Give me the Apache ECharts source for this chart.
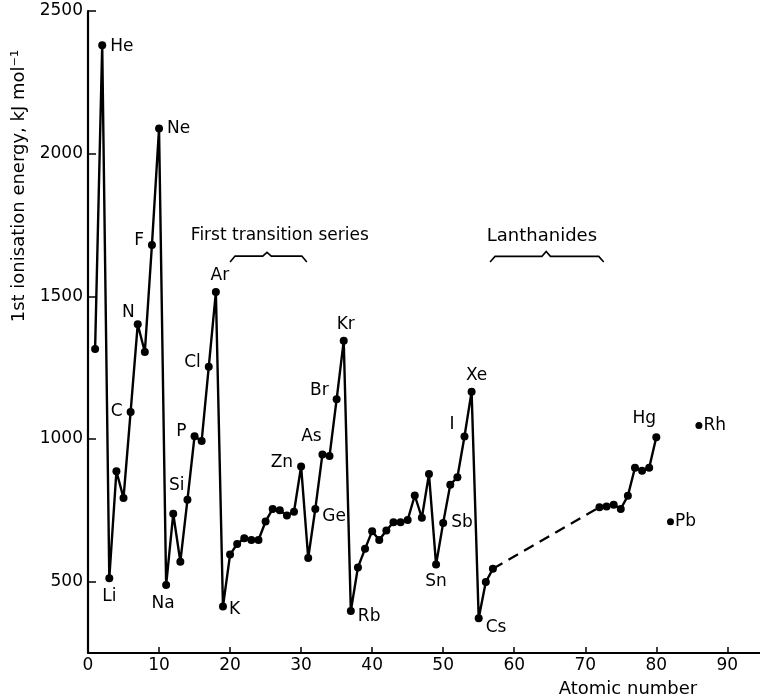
<!DOCTYPE html>
<html><head><meta charset="utf-8">
<script src="https://cdn.jsdelivr.net/npm/echarts@6/dist/echarts.min.js"></script>
<style>html,body{margin:0;padding:0;background:#fff}#c{width:760px;height:700px}</style>
</head><body><div id="c"></div>
<script>
// ---- data ----
const mainZ = [1,2,3,4,5,6,7,8,9,10,11,12,13,14,15,16,17,18,19,20,21,22,23,24,25,26,27,28,29,30,31,32,33,34,35,36,37,38,39,40,41,42,43,44,45,46,47,48,49,50,51,52,53,54,55,56,57];
const mainIE = [1315,2380,512,887,793,1095,1402,1305,1680,2088,488,738,570,787,1010,993,1253,1515,413,595,632,652,646,646,711,755,750,732,745,904,583,755,946,940,1139,1344,397,550,615,677,646,679,708,708,716,802,724,877,560,706,840,866,1009,1166,372,499,545];
const lateZ = [72,73,74,75,76,77,78,79,80];
const lateIE = [761,763,770,755,801,899,889,899,1006];
const isoZ = [82,86];
const isoIE = [710,1047];
// element labels exactly as printed in the figure, keyed by atomic number
const labelZ = [2,3,6,7,9,10,11,14,15,17,18,19,30,32,33,35,36,37,49,50,53,54,55,80,82,86];
const labelText = ['He','Li','C','N','F','Ne','Na','Si','P','Cl','Ar','K','Zn','Ge','As','Br','Kr','Rb','Sn','Sb','I','Xe','Cs','Hg','Pb','Rh'];
const xTicks = [0,10,20,30,40,50,60,70,80,90];
const yTicks = [500,1000,1500,2000,2500];

// ---- label placement (style) ----
const place = {
  2:['right',[0,1]], 3:['bottom',[0,2]], 6:['left',[0,0]], 7:['left',[5,-12]], 9:['left',[0,-4]],
  10:['right',[0,0]], 11:['bottom',[-3,2]], 14:['left',[5,-14]], 15:['left',[0,-5]], 17:['left',[0,-4]],
  18:['top',[4,0]], 19:['right',[-2,3]], 30:['left',[0,-4]], 32:['right',[-1,8]], 33:['top',[-11,-1]],
  35:['left',[0,-9]], 36:['top',[2,0]], 37:['right',[-1,6]], 49:['bottom',[0,1]], 50:['right',[0,0]],
  53:['left',[-2,-12]], 54:['top',[5,0]], 55:['right',[-1,9]], 80:['top',[-12,-2]], 82:['right',[-3,0]], 86:['right',[-3,0]]
};
const FONT = 'DejaVu Sans';
function item(z, v) {
  const i = labelZ.indexOf(z);
  const d = { value: [z, v] };
  if (i >= 0) {
    const p = place[z];
    d.label = { show: true, formatter: labelText[i], position: p[0], offset: p[1], distance: 4, color: '#000' };
  }
  return d;
}
const labelBase = { show: false, color: '#000', fontSize: 17, fontFamily: FONT };

const chart = echarts.init(document.getElementById('c'), null, { renderer: 'canvas' });
chart.setOption({
  animation: false,
  backgroundColor: '#fff',
  grid: { left: 88, right: 0, top: 11, bottom: 47, containLabel: false },
  xAxis: {
    type: 'value', min: 0, max: 94.6, interval: 10,
    axisLine: { show: true, onZero: false, lineStyle: { color: '#000', width: 2.2 } },
    axisTick: { show: true, inside: true, length: 6, customValues: xTicks, lineStyle: { color: '#000', width: 1.5 } },
    axisLabel: { customValues: xTicks, color: '#000', fontSize: 17, fontFamily: FONT, margin: 4, formatter: v => String(v) },
    splitLine: { show: false }
  },
  yAxis: {
    type: 'value', min: 250, max: 2500,
    axisLine: { show: true, onZero: false, lineStyle: { color: '#000', width: 2.2 } },
    axisTick: { show: true, inside: true, length: 8, customValues: yTicks, lineStyle: { color: '#000', width: 1.5 } },
    axisLabel: { customValues: yTicks, color: '#000', fontSize: 17, fontFamily: FONT, margin: 5, formatter: v => String(v) },
    splitLine: { show: false }
  },
  series: [
    { type: 'line', data: mainZ.map((z, k) => item(z, mainIE[k])), symbol: 'circle', symbolSize: 8,
      lineStyle: { color: '#000', width: 2.4 }, itemStyle: { color: '#000' }, label: labelBase, z: 3 },
    { type: 'line', data: [[mainZ[mainZ.length - 1], mainIE[mainIE.length - 1]], [lateZ[0], lateIE[0]]],
      symbol: 'none', lineStyle: { color: '#000', width: 2.2, type: [11, 7] }, z: 2 },
    { type: 'line', data: lateZ.map((z, k) => item(z, lateIE[k])), symbol: 'circle', symbolSize: 8,
      lineStyle: { color: '#000', width: 2.4 }, itemStyle: { color: '#000' }, label: labelBase, z: 3 },
    { type: 'scatter', data: isoZ.map((z, k) => item(z, isoIE[k])), symbol: 'circle', symbolSize: 7,
      itemStyle: { color: '#000', opacity: 1 }, label: labelBase, z: 3 }
  ]
});

// ---- annotations positioned in data coordinates ----
function px(z, v) { return chart.convertToPixel({ gridIndex: 0 }, [z, v]); }
function brace(z0, z1, zp, yEnd, yLine, yPeak) {
  const pts = [px(z0, yEnd), px(z0 + 0.7, yLine), px(zp - 0.6, yLine), px(zp, yPeak), px(zp + 0.6, yLine), px(z1 - 0.7, yLine), px(z1, yEnd)];
  return { type: 'polyline', shape: { points: pts }, style: { stroke: '#000', lineWidth: 1.6, fill: null } };
}
const t1 = px(27.0, 1712), t2 = px(63.9, 1712);
chart.setOption({
  graphic: [
    { type: 'text', x: t1[0], y: t1[1], style: { text: 'First transition series', font: '17px "' + FONT + '"', fill: '#000', textAlign: 'center', textVerticalAlign: 'middle' } },
    { type: 'text', x: t2[0], y: t2[1], style: { text: 'Lanthanides', font: '18px "' + FONT + '"', fill: '#000', textAlign: 'center', textVerticalAlign: 'middle' } },
    brace(20.0, 30.8, 25.2, 1620, 1641, 1654),
    brace(56.6, 72.6, 64.5, 1620, 1640, 1657),
    { type: 'text', x: 19, y: 186, rotation: Math.PI / 2, style: { text: '1st ionisation energy, kJ mol\u207B\u00B9', font: '18px "' + FONT + '"', fill: '#000', textAlign: 'center', textVerticalAlign: 'middle' } },
    { type: 'text', x: 628, y: 689, style: { text: 'Atomic number', font: '18px "' + FONT + '"', fill: '#000', textAlign: 'center', textVerticalAlign: 'middle' } }
  ]
});
</script>
</body></html>
